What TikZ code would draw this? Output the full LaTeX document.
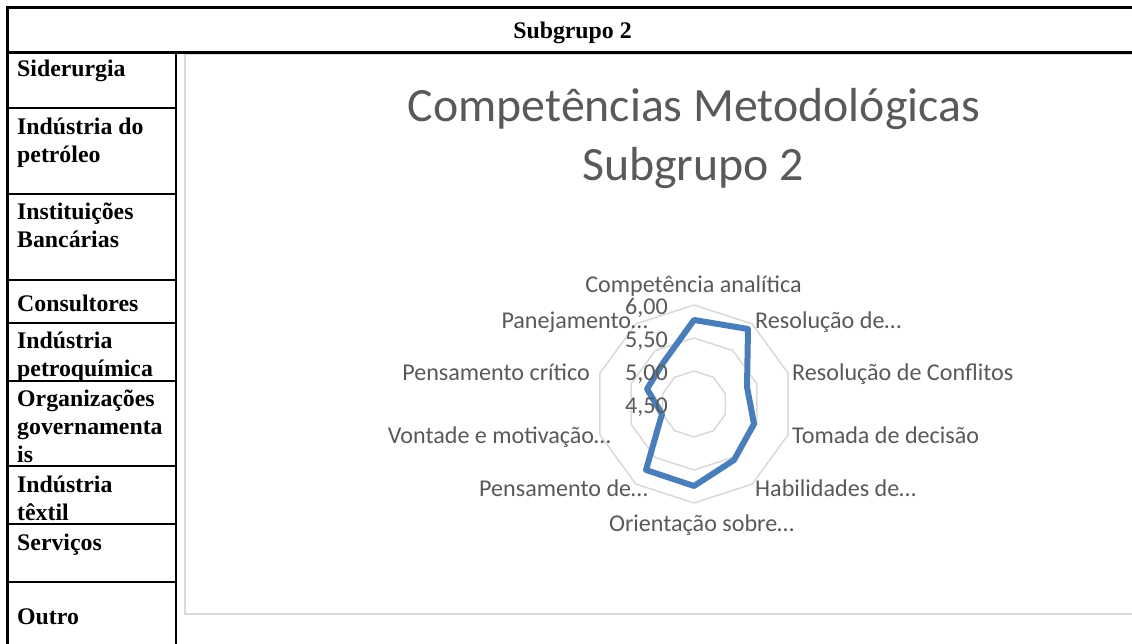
\documentclass[tikz,border=0pt]{standalone}
\usepackage{fontspec}
\setmainfont{Liberation Serif}
\newfontfamily\chartfont{Carlito}
\definecolor{gridgray}{HTML}{D9D9D9}
\definecolor{charttext}{HTML}{595959}
\definecolor{serieblue}{HTML}{4A7EBB}
\tikzset{
  rule/.style={draw=black,line width=2pt},
  heavyrule/.style={draw=black,line width=3pt},
  framerule/.style={draw=gridgray,line width=2pt},
  gridring/.style={draw=gridgray,line width=1.5pt,line join=round},
  serie/.style={draw=serieblue,line width=6pt,line join=round},
  rowlabel/.style={anchor=base west,inner sep=0pt,font=\fontsize{23.8}{28}\selectfont\bfseries},
  headlabel/.style={anchor=base,inner sep=0pt,font=\fontsize{23.8}{28}\selectfont\bfseries},
  charttitle/.style={anchor=base,inner sep=0pt,text=charttext,font=\chartfont\fontsize{47.8}{60}\selectfont},
  axislabel/.style={inner sep=0pt,text=charttext,font=\chartfont\fontsize{24.1}{28}\selectfont},
  ticklabel/.style={anchor=base east,inner sep=0pt,text=charttext,font=\chartfont\fontsize{24.1}{28}\selectfont},
}
\newcommand{\rows}[1]{\begin{tabular}[t]{@{}l@{}}#1\end{tabular}}
\begin{document}
\begin{tikzpicture}[x=1pt,y=-1pt]
\useasboundingbox (0,0) rectangle (1132,644);
% chart frame
\draw[framerule] (1132,54) -- (184.5,54) -- (184.5,614) -- (1132,614);
% radar grid
\begin{scope}[shift={(694,404)}]
\foreach \r in {33,66,99}{
  \draw[gridring] (-90:\r) -- (-54:\r) -- (-18:\r) -- (18:\r) -- (54:\r) -- (90:\r)
    -- (126:\r) -- (162:\r) -- (198:\r) -- (234:\r) -- cycle;
}
\end{scope}
% data series
\draw[serie] (694,320) -- (748,329) -- (747,387) -- (754,424) -- (734,460)
  -- (694,486) -- (646,470) -- (662,414) -- (647,389) -- (663,363) -- cycle;
% table rules
\draw[heavyrule] (1132,7.5) -- (7.5,7.5) -- (7.5,644);
\draw[heavyrule,line width=2.5pt] (7.5,52.5) -- (1132,52.5);
\draw[rule] (175.5,52.5) -- (175.5,644);
\foreach \yy in {108.3,194.3,280,322.7,381,465.7,523.7,581.7}{
  \draw[rule] (7.5,\yy) -- (175.5,\yy);
}
% table text
\node[headlabel] (head) at (572.5,39) {Subgrupo 2};
\node[rowlabel] (r1) at (17,77) {\rows{Siderurgia}};
\node[rowlabel] (r2) at (17,135) {\rows{Indústria do\\petróleo}};
\node[rowlabel] (r3) at (17,220) {\rows{Instituições\\Bancárias}};
\node[rowlabel] (r4) at (17,312) {\rows{Consultores}};
\node[rowlabel] (r5) at (17,348) {\rows{Indústria\\petroquímica}};
\node[rowlabel] (r6) at (17,406) {\rows{Organizações\\governamenta\\is}};
\node[rowlabel] (r7) at (17,492) {\rows{Indústria\\têxtil}};
\node[rowlabel] (r8) at (17,550) {\rows{Serviços}};
\node[rowlabel] (r9) at (17,624) {\rows{Outro}};
% chart title
\node[charttitle] (t1) at (694,122) {Competências Metodológicas};
\node[charttitle] (t2) at (693,181) {Subgrupo 2};
% scale labels
\node[ticklabel] (s1) at (668,314) {6,00};
\node[ticklabel] (s2) at (668,347) {5,50};
\node[ticklabel] (s3) at (668,380) {5,00};
\node[ticklabel] (s4) at (668,413) {4,50};
% axis labels
\node[axislabel,anchor=base] (a1) at (693.5,292) {Competência analítica};
\node[axislabel,anchor=base west] (a2) at (755,328) {Resolução de…};
\node[axislabel,anchor=base west] (a3) at (792,380) {Resolução de Conflitos};
\node[axislabel,anchor=base west] (a4) at (792,443) {Tomada de decisão};
\node[axislabel,anchor=base west] (a5) at (755,496) {Habilidades de…};
\node[axislabel,anchor=base] (a6) at (701.5,531) {Orientação sobre…};
\node[axislabel,anchor=base east] (a7) at (648,496) {Pensamento de…};
\node[axislabel,anchor=base east] (a8) at (611,443) {Vontade e motivação…};
\node[axislabel,anchor=base east] (a9) at (590,380) {Pensamento crítico};
\node[axislabel,anchor=base east] (a10) at (648,328) {Panejamento…};
\end{tikzpicture}
\end{document}
